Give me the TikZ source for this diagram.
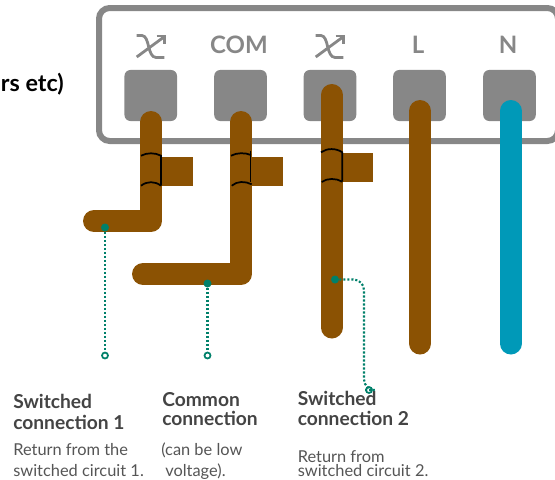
\documentclass[tikz,border=0pt]{standalone}
\usepackage{fontspec}
\setmainfont{Lato}
\definecolor{casegrey}{HTML}{878787}
\definecolor{wirebrown}{HTML}{8B5203}
\definecolor{wireblue}{HTML}{0099B8}
\definecolor{leadgreen}{HTML}{00806A}
\definecolor{textgrey}{HTML}{444444}
\definecolor{bodygrey}{HTML}{555555}
\tikzset{
	terminal/.style={fill=casegrey,rounded corners=4.5pt,inner sep=0pt,minimum width=39.4pt,minimum height=38.3pt},
	wire/.style={line width=16.5pt,line cap=round,line join=round,wirebrown},
	stub/.style={fill=wirebrown,inner sep=0pt,minimum width=23pt,minimum height=21.75pt},
	clamp/.style={black,line width=1.3pt},
	swap/.style={casegrey,line width=2.1pt},
	termlabel/.style={casegrey,font=\bfseries\fontsize{18}{18}\selectfont},
	leader/.style={leadgreen,line width=1.6pt,dash pattern=on 1.6pt off 1.4pt},
	solderdot/.style={circle,fill=leadgreen,inner sep=0pt,minimum size=6pt},
	enddot/.style={circle,draw=leadgreen,fill=white,line width=1.3pt,inner sep=0pt,minimum size=4.5pt},
	headtext/.style={textgrey,inner sep=0pt,anchor=base west,align=left,font=\bfseries\fontsize{14.4}{#1}\selectfont},
	bodytext/.style={bodygrey,inner sep=0pt,anchor=base west,align=left,font=\fontsize{12.3}{#1}\selectfont}
}
\begin{document}
\begin{tikzpicture}[x=0.75pt,y=-0.75pt]
	\useasboundingbox (0,0) rectangle (555,479);
	\draw [casegrey,line width=4.5pt,rounded corners=8pt] (99,8) rectangle (558,141);
	\node [terminal] (t1) at (150.75,95.5) {};
	\node [terminal] (t2) at (240.5,95.5) {};
	\node [terminal] (t3) at (330,95.5) {};
	\node [terminal] (t4) at (419.5,95.5) {};
	\node [terminal] (t5) at (509.5,95.5) {};
	\node [termlabel] (lcom) at (239,44.5) {COM};
	\node [termlabel] (ll) at (418,44.5) {L};
	\node [termlabel] (ln) at (508,44.5) {N};
	\draw [swap] (136.7,35.5) -- (142,35.5) .. controls (150,36) and (147,57) .. (156,57.5) -- (164.3,57.5);
	\draw [swap] (136.7,57) -- (164.3,36.7);
	\draw [swap] (156.7,36) -- (164.3,36) -- (164.3,44);
	\draw [swap] (315.7,35.5) -- (321,35.5) .. controls (329,36) and (326,57) .. (335,57.5) -- (343.3,57.5);
	\draw [swap] (315.7,57) -- (343.3,36.7);
	\draw [swap] (335.7,36) -- (343.3,36) -- (343.3,44);
	\node [stub] (s1) at (177.5,171.5) {};
	\node [stub] (s2) at (267.5,171.5) {};
	\node [stub] (s3) at (358,167.5) {};
	\coordinate (w1a) at (151,122);
	\coordinate (w1b) at (151,221);
	\coordinate (w1c) at (94,221);
	\coordinate (w2a) at (241,122);
	\coordinate (w2b) at (241,274);
	\coordinate (w2c) at (143,274);
	\coordinate (w3a) at (331.7,95);
	\coordinate (w3b) at (331.7,327.5);
	\coordinate (w4a) at (420,111);
	\coordinate (w4b) at (420,343.5);
	\coordinate (w5a) at (510.7,111);
	\coordinate (w5b) at (510.7,343.5);
	\draw [wire] (w1a) -- (w1b) -- (w1c);
	\draw [wire] (w2a) -- (w2b) -- (w2c);
	\draw [wire] (w3a) -- (w3b);
	\draw [wire] (w4a) -- (w4b);
	\draw [wire,wireblue] (w5a) -- (w5b);
	\draw [clamp] (141,155.7) .. controls (147,152.5) and (155,152.5) .. (161,155.7) -- (161,185.7);
	\draw [clamp] (141,185.7) .. controls (147,181) and (155,181) .. (161,185.7);
	\draw [clamp] (231,155.7) .. controls (237,152.5) and (245,152.5) .. (251,155);
	\draw [clamp] (250.5,150.7) -- (250.5,182);
	\draw [clamp] (231.7,185.7) .. controls (237,181) and (245,181) .. (251.7,184.3);
	\draw [clamp] (321,152.3) .. controls (327,148) and (336,148) .. (342.3,152.3) -- (342.3,181.7);
	\draw [clamp] (321.7,182) .. controls (327,178) and (336,178) .. (342.3,181.7);
	\node [black,inner sep=0pt,anchor=base east,font=\bfseries\fontsize{17.5}{18}\selectfont] (lnote) at (64,91) {rs etc)};
	\node [headtext=15.75pt] (h1) at (13,429) {Switched\\connection 1};
	\node [bodytext=15.75pt] (b1) at (13,476) {Return from the\\switched circuit 1.};
	\node [headtext=14.5pt] (h2) at (162,425.7) {Common\\connection};
	\node [bodytext=15.75pt] (b2) at (161,476) {(can be low\\\hspace*{3pt}voltage).};
	\node [headtext=14.5pt] (h3) at (297.5,425) {Switched\\connection 2};
	\node [bodytext=11pt] (b3) at (297.5,476.7) {Return from\\switched circuit 2.};
	\node [solderdot] (d1) at (105,227.5) {};
	\node [enddot] (e1) at (105,355.5) {};
	\node [solderdot] (d2) at (207.5,283.5) {};
	\node [enddot] (e2) at (207.5,355.5) {};
	\node [solderdot] (d3) at (335,279.5) {};
	\node [enddot] (e3) at (369,390) {};
	\coordinate (k3) at (364,390);
	\draw [leader] (d1) -- (e1);
	\draw [leader] (d2) -- (e2);
	\draw [leader,rounded corners=8pt] (d3) -| (k3) -- (e3);
\end{tikzpicture}
\end{document}
